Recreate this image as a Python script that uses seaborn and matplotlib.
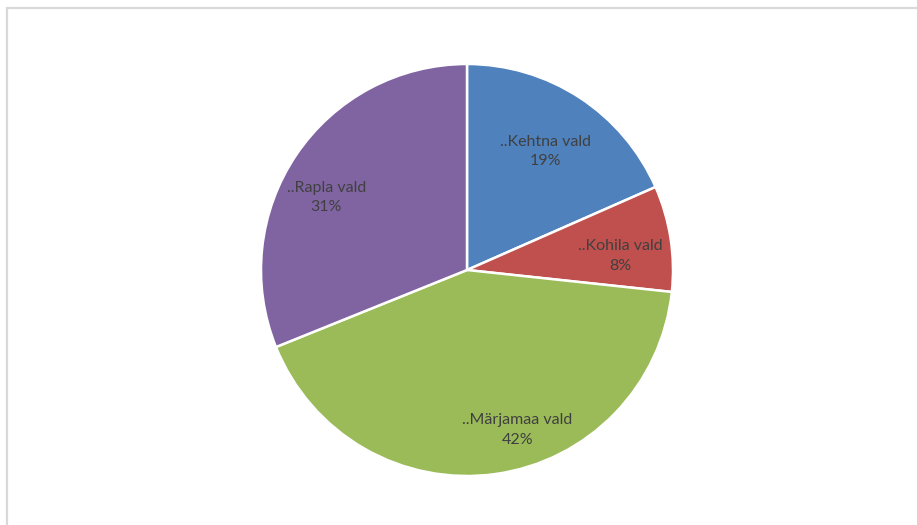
import numpy as np
import matplotlib
matplotlib.use("Agg")
import matplotlib.pyplot as plt
import seaborn as sns
from matplotlib.patches import Rectangle

categories = ["..Kehtna vald", "..Kohila vald", "..Märjamaa vald", "..Rapla vald"]
values = [18.4, 8.3, 42.2, 31.1]
pct_labels = ["19%", "8%", "42%", "31%"]
colors = ["#4f81bd", "#c0504d", "#9bbb59", "#8064a2"]
# label centres in units of pie radius, relative to pie centre
label_pos = [(0.38, 0.575), (0.745, 0.068), (0.245, -0.776), (-0.683, 0.351)]

sns.set_theme(style="white")
plt.rcParams["font.family"] = ["Lato", "DejaVu Sans"]

W, H = 917, 525
fig = plt.figure(figsize=(W / 100, H / 100), dpi=100)
fig.patch.set_facecolor("white")

# chart border
fig.add_artist(Rectangle((7 / W, -0.05), 1.2, (H - 8) / H + 0.05, transform=fig.transFigure,
                         fill=False, edgecolor="#d9d9d9", linewidth=1.6))

cx, cy, R = 467, 270, 206
ax = fig.add_axes([(cx - R) / W, (H - cy - R) / H, 2 * R / W, 2 * R / H])
wedges, _ = ax.pie(values, colors=colors, startangle=90, counterclock=False, radius=1,
                   wedgeprops=dict(edgecolor="white", linewidth=1.8))
ax.set_xlim(-1, 1)
ax.set_ylim(-1, 1)
ax.axis("off")

for name, pct, (x, y) in zip(categories, pct_labels, label_pos):
    ax.text(x, y, f"{name}\n{pct}", ha="center", va="center", fontsize=11.5,
            color="#404040", linespacing=1.5)

fig.savefig("out.png", dpi=100)
